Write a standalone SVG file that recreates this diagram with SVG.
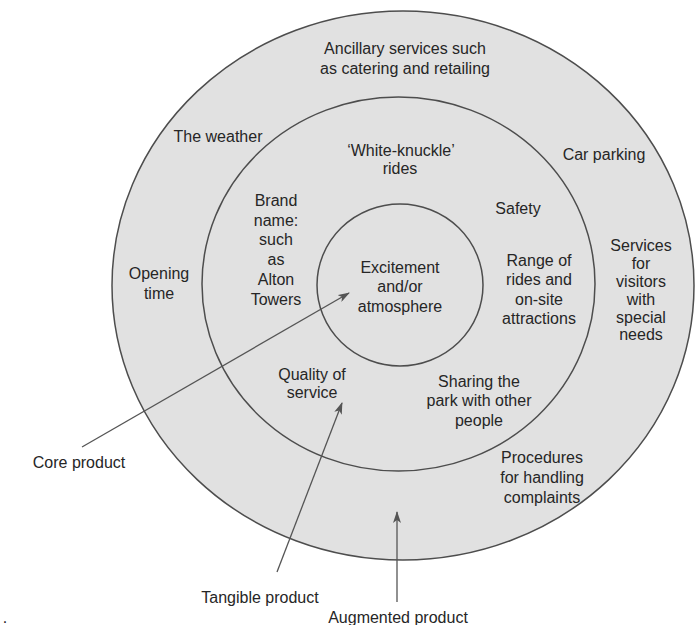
<svg xmlns="http://www.w3.org/2000/svg" width="700" height="625" viewBox="0 0 700 625">
<defs>
<style>
.ring{fill:#e1e1e1;stroke:#4d4d4d;stroke-width:1.5}
.t{font-family:"Liberation Sans",Arial,sans-serif;font-size:16px;fill:#262626;text-anchor:middle}
.c{stroke:#555;stroke-width:1.3;fill:none;marker-end:url(#ah)}
</style>
<marker id="ah" viewBox="0 0 12 8" refX="11" refY="4" markerWidth="12" markerHeight="8" markerUnits="userSpaceOnUse" orient="auto">
<path d="M0,0 L12,4 L0,8 L3,4 Z" fill="#555"/>
</marker>
</defs>
<rect width="700" height="625" fill="#fff"/>
<g id="augmented">
<ellipse class="ring" cx="403" cy="285.5" rx="291" ry="274.5"/>
<text class="t" x="405" y="54">Ancillary services such</text>
<text class="t" x="405" y="74">as catering and retailing</text>
<text class="t" x="218" y="142">The weather</text>
<text class="t" x="604" y="160">Car parking</text>
<text class="t" x="159" y="279">Opening</text>
<text class="t" x="159" y="299">time</text>
<text class="t" x="641" y="251">Services</text>
<text class="t" x="641" y="269">for</text>
<text class="t" x="641" y="287">visitors</text>
<text class="t" x="641" y="305">with</text>
<text class="t" x="641" y="323">special</text>
<text class="t" x="641" y="340">needs</text>
<text class="t" x="542" y="463">Procedures</text>
<text class="t" x="542" y="483">for handling</text>
<text class="t" x="542" y="503">complaints</text>
</g>
<g id="tangible">
<ellipse class="ring" cx="398.5" cy="284" rx="196.5" ry="187"/>
<text class="t" x="401" y="156">‘White-knuckle’</text>
<text class="t" x="400" y="174">rides</text>
<text class="t" x="276" y="206">Brand</text>
<text class="t" x="276" y="226">name:</text>
<text class="t" x="276" y="245">such</text>
<text class="t" x="276" y="265">as</text>
<text class="t" x="276" y="285">Alton</text>
<text class="t" x="276" y="305">Towers</text>
<text class="t" x="518" y="214">Safety</text>
<text class="t" x="539" y="266">Range of</text>
<text class="t" x="539" y="285">rides and</text>
<text class="t" x="539" y="305">on-site</text>
<text class="t" x="539" y="324">attractions</text>
<text class="t" x="312" y="380">Quality of</text>
<text class="t" x="312" y="398">service</text>
<text class="t" x="479" y="387">Sharing the</text>
<text class="t" x="479" y="406">park with other</text>
<text class="t" x="479" y="426">people</text>
</g>
<g id="core">
<ellipse class="ring" cx="400" cy="285" rx="83" ry="81"/>
<text class="t" x="400" y="273">Excitement</text>
<text class="t" x="400" y="292">and/or</text>
<text class="t" x="400" y="312">atmosphere</text>
</g>
<g id="connectors">
<line class="c" x1="82" y1="447" x2="349" y2="293"/>
<line class="c" x1="277" y1="572" x2="342" y2="403"/>
<line class="c" x1="397" y1="602" x2="397" y2="512"/>
</g>
<g id="labels">
<text class="t" x="79" y="468">Core product</text>
<text class="t" x="260" y="603">Tangible product</text>
<text class="t" x="398" y="623">Augmented product</text>
<text class="t" x="5" y="623">.</text>
</g>
</svg>
